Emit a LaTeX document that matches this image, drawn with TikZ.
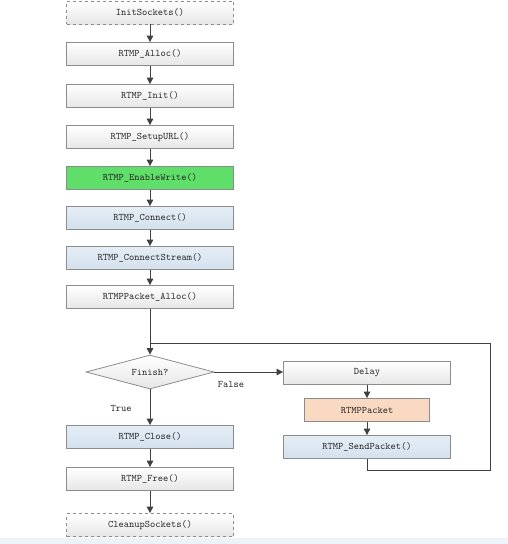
\documentclass[tikz,border=0pt]{standalone}
\usetikzlibrary{shapes.geometric,arrows.meta}
\definecolor{boxline}{HTML}{8C8C8C}
\definecolor{greyfill}{HTML}{E6E6E6}
\definecolor{greenfill}{HTML}{5FDF6A}
\definecolor{bluefill}{HTML}{D3E1EE}
\definecolor{orangefill}{HTML}{FAD9C2}
\definecolor{strip}{HTML}{EEF3F9}
\tikzset{
  base/.style={draw=boxline, line width=0.8pt, minimum height=23pt, inner sep=0pt,
    font=\ttfamily\fontsize{10}{12}\selectfont, text=black!85},
  plainbox/.style={base, minimum width=167pt, top color=white, bottom color=greyfill},
  dashbox/.style={plainbox, dashed},
  greenbox/.style={base, minimum width=167pt, fill=greenfill},
  bluebox/.style={base, minimum width=167pt, top color=bluefill!60, bottom color=bluefill},
  orangebox/.style={base, minimum width=125pt, fill=orangefill},
  decision/.style={base, diamond, aspect=3.8, minimum width=128pt, minimum height=34pt,
    top color=white, bottom color=greyfill},
  conn/.style={draw=black!75, line width=0.9pt, -{Triangle[length=6.5pt,width=6.5pt]}},
  plainline/.style={draw=black!75, line width=0.9pt},
  lbl/.style={font=\ttfamily\fontsize{10}{12}\selectfont, text=black!85, inner sep=0pt}
}
\begin{document}
\begin{tikzpicture}[x=1pt,y=-1pt]
\useasboundingbox (0,0) rectangle (508,544);
\fill[strip] (0,538) rectangle (508,544);
\node[dashbox]  (s0) at (150,12.5) {InitSockets()};
\node[plainbox] (s1) at (150,54)  {RTMP\_Alloc()};
\node[plainbox] (s2) at (150,96)  {RTMP\_Init()};
\node[plainbox] (s3) at (150,137) {RTMP\_SetupURL()};
\node[greenbox] (s4) at (150,178) {RTMP\_EnableWrite()};
\node[bluebox]  (s5) at (150,218) {RTMP\_Connect()};
\node[bluebox]  (s6) at (150,258) {RTMP\_ConnectStream()};
\node[plainbox] (s7) at (150,297) {RTMPPacket\_Alloc()};
\coordinate (j) at (150,343);
\node[decision] (d) at (150,372) {Finish?};
\node[plainbox] (dl) at (367,373) {Delay};
\node[orangebox] (pk) at (367,410) {RTMPPacket};
\node[bluebox] (sp) at (367,447) {RTMP\_SendPacket()};
\node[bluebox] (cl) at (150,437) {RTMP\_Close()};
\node[plainbox] (fr) at (150,479) {RTMP\_Free()};
\node[dashbox] (cu) at (150,525) {CleanupSockets()};
\node[lbl] (tf) at (231,384) {False};
\node[lbl] (tt) at (121,408) {True};
\draw[conn] (s0) -- (s1);
\draw[conn] (s1) -- (s2);
\draw[conn] (s2) -- (s3);
\draw[conn] (s3) -- (s4);
\draw[conn] (s4) -- (s5);
\draw[conn] (s5) -- (s6);
\draw[conn] (s6) -- (s7);
\draw[conn] (s7) -- (d);
\draw[conn] (d.east) -- (dl.west |- d.east);
\draw[conn] (dl) -- (pk);
\draw[conn] (pk) -- (sp);
\draw[plainline] (sp.south) -- ++(0,12) -| (490,343) -- (j);
\draw[conn] (d) -- (cl);
\draw[conn] (cl) -- (fr);
\draw[conn] (fr) -- (cu);
\end{tikzpicture}
\end{document}
